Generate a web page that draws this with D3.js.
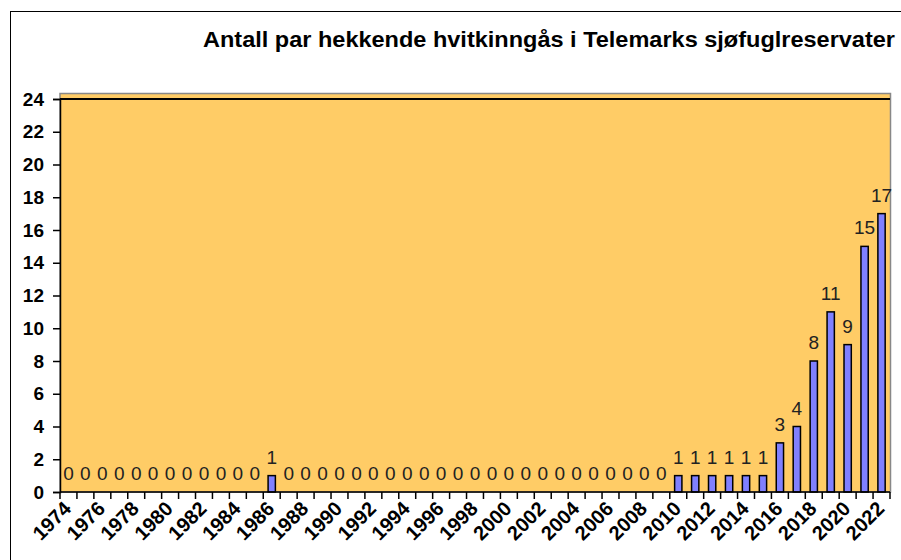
<!DOCTYPE html>
<html>
<head>
<meta charset="utf-8">
<script src="https://cdn.jsdelivr.net/npm/d3@7"></script>
<style>
  body { margin: 0; background: #fff; }
  text { font-family: "Liberation Sans", Arial, sans-serif; }
</style>
</head>
<body>
<svg id="chart" width="901" height="560"></svg>
<script>
// år 1974-2022
const years = [
  1974, 1975, 1976, 1977, 1978, 1979, 1980, 1981, 1982, 1983,
  1984, 1985, 1986, 1987, 1988, 1989, 1990, 1991, 1992, 1993,
  1994, 1995, 1996, 1997, 1998, 1999, 2000, 2001, 2002, 2003,
  2004, 2005, 2006, 2007, 2008, 2009, 2010, 2011, 2012, 2013,
  2014, 2015, 2016, 2017, 2018, 2019, 2020, 2021, 2022
];
// antall par
const pairs = [
  0, 0, 0, 0, 0, 0, 0, 0, 0, 0,
  0, 0, 1, 0, 0, 0, 0, 0, 0, 0,
  0, 0, 0, 0, 0, 0, 0, 0, 0, 0,
  0, 0, 0, 0, 0, 0, 1, 1, 1, 1,
  1, 1, 3, 4, 8, 11, 9, 15, 17
];
const yTicks = [0, 2, 4, 6, 8, 10, 12, 14, 16, 18, 20, 22, 24];
const title = "Antall par hekkende hvitkinngås i Telemarks sjøfuglreservater";

const svg = d3.select("#chart");
const mLeft = 60, mRight = 890, mTop = 99, mBottom = 492;

// outer chart frame (cut off at right/bottom)
svg.append("rect")
  .attr("x", 10.5).attr("y", 11.5)
  .attr("width", 950).attr("height", 600)
  .attr("fill", "none").attr("stroke", "#000");

svg.append("text")
  .attr("x", 203).attr("y", 47)
  .attr("font-size", 22).attr("font-weight", "bold")
  .attr("textLength", 692).attr("lengthAdjust", "spacingAndGlyphs")
  .text(title);

const x = d3.scaleBand()
  .domain(years)
  .range([mLeft, mRight])
  .paddingInner(0.57)
  .paddingOuter(0.285);

const y = d3.scaleLinear().domain([0, 24]).range([mBottom, mTop]);

// plot area
svg.append("rect")
  .attr("x", mLeft).attr("y", 93.5)
  .attr("width", mRight - mLeft + 0.5).attr("height", mBottom - 93.5)
  .attr("fill", "#ffcc66")
  .attr("stroke", "#888").attr("stroke-width", 1.5);

// gridline at 24
svg.append("line")
  .attr("x1", mLeft).attr("x2", mRight)
  .attr("y1", y(24)).attr("y2", y(24))
  .attr("stroke", "#000").attr("stroke-width", 2);

// bars
svg.append("g").selectAll("rect")
  .data(pairs)
  .join("rect")
  .attr("x", (d, i) => x(years[i]))
  .attr("y", d => y(d))
  .attr("width", x.bandwidth())
  .attr("height", d => mBottom - y(d))
  .attr("fill", "#8080ff")
  .attr("stroke", "#000")
  .attr("stroke-width", 1.5)
  .attr("display", d => d > 0 ? null : "none");

// value labels
svg.append("g").selectAll("text")
  .data(pairs)
  .join("text")
  .attr("x", (d, i) => x(years[i]) + x.bandwidth() / 2)
  .attr("y", d => y(d) - 12)
  .attr("text-anchor", "middle")
  .attr("font-size", 19)
  .attr("fill", "#222")
  .text(d => d);

// y axis
const yAxis = svg.append("g")
  .attr("transform", `translate(${mLeft},0)`)
  .call(d3.axisLeft(y).tickValues(yTicks).tickSize(7).tickPadding(9));
yAxis.select(".domain").attr("stroke", "#000").attr("stroke-width", 1.5);
yAxis.selectAll(".tick line").attr("stroke", "#000").attr("stroke-width", 1.5);
yAxis.selectAll("text")
  .attr("font-size", 19).attr("font-weight", "bold")
  .attr("font-family", "Liberation Sans, Arial, sans-serif")
  .attr("fill", "#000");

// x axis: ticks at category boundaries
const step = x.step();
const xAxis = svg.append("g").attr("transform", `translate(0,${mBottom})`);
xAxis.append("line")
  .attr("x1", mLeft).attr("x2", mRight)
  .attr("stroke", "#000").attr("stroke-width", 1.5);
xAxis.selectAll(".bt")
  .data(d3.range(years.length + 1))
  .join("line")
  .attr("class", "bt")
  .attr("x1", i => mLeft + i * step).attr("x2", i => mLeft + i * step)
  .attr("y1", 0).attr("y2", 7)
  .attr("stroke", "#000").attr("stroke-width", 1.5);

xAxis.selectAll(".lbl")
  .data(years.filter((d, i) => i % 2 === 0))
  .join("text")
  .attr("class", "lbl")
  .attr("transform", d => `translate(${x(d) + x.bandwidth() / 2 + 4},${18}) rotate(-45)`)
  .attr("text-anchor", "end")
  .attr("font-size", 20).attr("font-weight", "bold")
  .text(d => d);
</script>
</body>
</html>
